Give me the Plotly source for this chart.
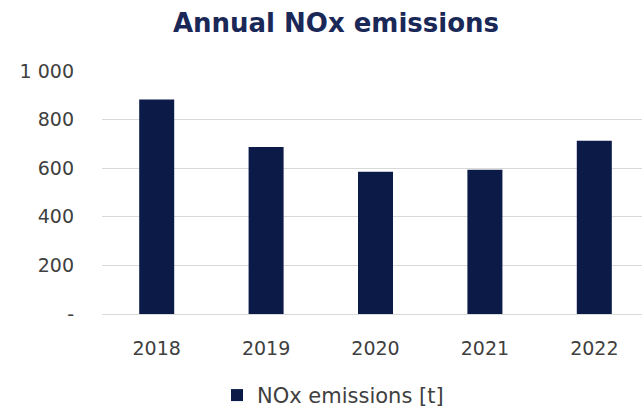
import plotly.graph_objects as go

years = ["2018", "2019", "2020", "2021", "2022"]
nox = [883, 687, 585, 594, 713]
ytick_vals = [0, 200, 400, 600, 800, 1000]
ytick_text = ["-", "200", "400", "600", "800", "1 000"]

W, H = 642, 416
left, right, top, bottom = 102, 0, 71, 96.7

fig = go.Figure()
fig.add_trace(go.Bar(
    x=years, y=nox, name="NOx emissions [t]",
    marker=dict(color="#0c1a48", line=dict(width=0)),
    width=0.32,
))

fig.update_layout(
    width=W, height=H,
    margin=dict(l=left, r=right, t=top, b=bottom, pad=0),
    paper_bgcolor="white", plot_bgcolor="white",
    font=dict(family="DejaVu Sans", size=19, color="#404040"),
    title=dict(text="<b>Annual NOx emissions</b>", x=336 / W, xanchor="center",
               y=1 - 23 / H, yanchor="middle",
               font=dict(family="DejaVu Sans", size=26, color="#1a2858")),
    showlegend=True,
    legend=dict(orientation="h", x=(333 - left) / (W - left), xanchor="center",
                y=-(402.5 - (H - bottom)) / (H - bottom - top), yanchor="middle",
                font=dict(size=21, color="#404040"), itemwidth=30,
                bgcolor="rgba(0,0,0,0)"),
    xaxis=dict(type="category", range=[-0.5, 4.436], showgrid=False,
               showline=False, ticks="", ticklabelstandoff=21,
               tickfont=dict(size=19, color="#404040")),
    yaxis=dict(range=[0, 1000], tickvals=ytick_vals, ticktext=ytick_text,
               showgrid=True, gridcolor="#d9d9d9", gridwidth=1.3,
               zeroline=True, zerolinecolor="#d9d9d9", zerolinewidth=1.3,
               showline=False, ticks="", ticklabelstandoff=27,
               tickfont=dict(size=19, color="#404040")),
    bargap=0.68,
)

fig.write_html("out.html")
